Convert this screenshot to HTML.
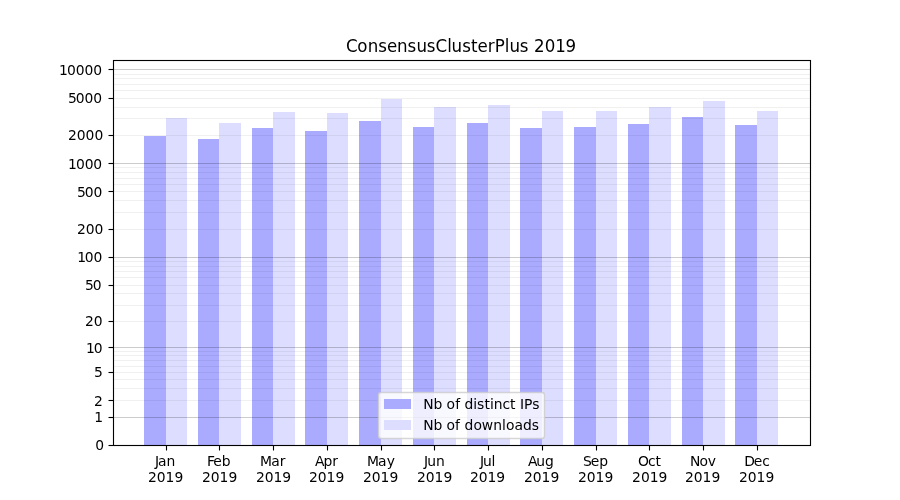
<!DOCTYPE html>
<html lang="en"><head><meta charset="utf-8"><title>ConsensusClusterPlus 2019</title>
<style>html,body{margin:0;padding:0;background:#fff;overflow:hidden}svg{display:block}text{font-family:'DejaVu Sans','Liberation Sans',sans-serif;fill:#000}.t10{font-size:13.8889px}.t12{font-size:16.6667px}</style></head><body>
<svg width="900" height="500" viewBox="0 0 900 500">
<rect x="0" y="0" width="900" height="500" fill="#ffffff"/>
<g shape-rendering="crispEdges">
<rect x="144" y="136" width="22" height="309" fill="#aaaaff"/>
<rect x="166" y="118" width="21" height="327" fill="#ddddff"/>
<rect x="198" y="139" width="21" height="306" fill="#aaaaff"/>
<rect x="219" y="123" width="22" height="322" fill="#ddddff"/>
<rect x="252" y="128" width="21" height="317" fill="#aaaaff"/>
<rect x="273" y="112" width="22" height="333" fill="#ddddff"/>
<rect x="305" y="131" width="22" height="314" fill="#aaaaff"/>
<rect x="327" y="113" width="21" height="332" fill="#ddddff"/>
<rect x="359" y="121" width="22" height="324" fill="#aaaaff"/>
<rect x="381" y="99" width="21" height="346" fill="#ddddff"/>
<rect x="413" y="127" width="21" height="318" fill="#aaaaff"/>
<rect x="434" y="107" width="22" height="338" fill="#ddddff"/>
<rect x="467" y="123" width="21" height="322" fill="#aaaaff"/>
<rect x="488" y="105" width="22" height="340" fill="#ddddff"/>
<rect x="520" y="128" width="22" height="317" fill="#aaaaff"/>
<rect x="542" y="111" width="21" height="334" fill="#ddddff"/>
<rect x="574" y="127" width="22" height="318" fill="#aaaaff"/>
<rect x="596" y="111" width="21" height="334" fill="#ddddff"/>
<rect x="628" y="124" width="21" height="321" fill="#aaaaff"/>
<rect x="649" y="107" width="22" height="338" fill="#ddddff"/>
<rect x="682" y="117" width="21" height="328" fill="#aaaaff"/>
<rect x="703" y="101" width="22" height="344" fill="#ddddff"/>
<rect x="735" y="125" width="22" height="320" fill="#aaaaff"/>
<rect x="757" y="111" width="21" height="334" fill="#ddddff"/>
<rect x="113" y="417" width="698" height="1" fill="#000" fill-opacity="0.2"/>
<rect x="113" y="400" width="698" height="1" fill="#000" fill-opacity="0.06"/>
<rect x="113" y="388" width="698" height="1" fill="#000" fill-opacity="0.06"/>
<rect x="113" y="379" width="698" height="1" fill="#000" fill-opacity="0.06"/>
<rect x="113" y="372" width="698" height="1" fill="#000" fill-opacity="0.06"/>
<rect x="113" y="366" width="698" height="1" fill="#000" fill-opacity="0.06"/>
<rect x="113" y="360" width="698" height="1" fill="#000" fill-opacity="0.06"/>
<rect x="113" y="355" width="698" height="1" fill="#000" fill-opacity="0.06"/>
<rect x="113" y="351" width="698" height="1" fill="#000" fill-opacity="0.06"/>
<rect x="113" y="347" width="698" height="1" fill="#000" fill-opacity="0.2"/>
<rect x="113" y="321" width="698" height="1" fill="#000" fill-opacity="0.06"/>
<rect x="113" y="305" width="698" height="1" fill="#000" fill-opacity="0.06"/>
<rect x="113" y="293" width="698" height="1" fill="#000" fill-opacity="0.06"/>
<rect x="113" y="285" width="698" height="1" fill="#000" fill-opacity="0.06"/>
<rect x="113" y="277" width="698" height="1" fill="#000" fill-opacity="0.06"/>
<rect x="113" y="271" width="698" height="1" fill="#000" fill-opacity="0.06"/>
<rect x="113" y="266" width="698" height="1" fill="#000" fill-opacity="0.06"/>
<rect x="113" y="261" width="698" height="1" fill="#000" fill-opacity="0.06"/>
<rect x="113" y="257" width="698" height="1" fill="#000" fill-opacity="0.2"/>
<rect x="113" y="229" width="698" height="1" fill="#000" fill-opacity="0.06"/>
<rect x="113" y="212" width="698" height="1" fill="#000" fill-opacity="0.06"/>
<rect x="113" y="200" width="698" height="1" fill="#000" fill-opacity="0.06"/>
<rect x="113" y="191" width="698" height="1" fill="#000" fill-opacity="0.06"/>
<rect x="113" y="184" width="698" height="1" fill="#000" fill-opacity="0.06"/>
<rect x="113" y="178" width="698" height="1" fill="#000" fill-opacity="0.06"/>
<rect x="113" y="172" width="698" height="1" fill="#000" fill-opacity="0.06"/>
<rect x="113" y="167" width="698" height="1" fill="#000" fill-opacity="0.06"/>
<rect x="113" y="163" width="698" height="1" fill="#000" fill-opacity="0.2"/>
<rect x="113" y="135" width="698" height="1" fill="#000" fill-opacity="0.06"/>
<rect x="113" y="118" width="698" height="1" fill="#000" fill-opacity="0.06"/>
<rect x="113" y="107" width="698" height="1" fill="#000" fill-opacity="0.06"/>
<rect x="113" y="98" width="698" height="1" fill="#000" fill-opacity="0.06"/>
<rect x="113" y="90" width="698" height="1" fill="#000" fill-opacity="0.06"/>
<rect x="113" y="84" width="698" height="1" fill="#000" fill-opacity="0.06"/>
<rect x="113" y="78" width="698" height="1" fill="#000" fill-opacity="0.06"/>
<rect x="113" y="74" width="698" height="1" fill="#000" fill-opacity="0.06"/>
<rect x="113" y="69" width="698" height="1" fill="#000" fill-opacity="0.2"/>
</g>
<g stroke="#000" stroke-width="1.1111" fill="none">
<path d="M113.5 60.5H810.5V445.5H113.5Z" stroke-linejoin="miter"/>
<path d="M108.5 445.5H113.5"/>
<path d="M108.5 417.5H113.5"/>
<path d="M108.5 400.5H113.5"/>
<path d="M108.5 372.5H113.5"/>
<path d="M108.5 347.5H113.5"/>
<path d="M108.5 321.5H113.5"/>
<path d="M108.5 285.5H113.5"/>
<path d="M108.5 257.5H113.5"/>
<path d="M108.5 229.5H113.5"/>
<path d="M108.5 191.5H113.5"/>
<path d="M108.5 163.5H113.5"/>
<path d="M108.5 135.5H113.5"/>
<path d="M108.5 98.5H113.5"/>
<path d="M108.5 69.5H113.5"/>
<path d="M166.5 445.5V450.5"/>
<path d="M219.5 445.5V450.5"/>
<path d="M273.5 445.5V450.5"/>
<path d="M327.5 445.5V450.5"/>
<path d="M381.5 445.5V450.5"/>
<path d="M434.5 445.5V450.5"/>
<path d="M488.5 445.5V450.5"/>
<path d="M542.5 445.5V450.5"/>
<path d="M596.5 445.5V450.5"/>
<path d="M649.5 445.5V450.5"/>
<path d="M703.5 445.5V450.5"/>
<path d="M757.5 445.5V450.5"/>
</g>
<g shape-rendering="crispEdges" fill="#000" fill-opacity="0.055"><rect x="113" y="59" width="698" height="1"/><rect x="113" y="61" width="698" height="1"/><rect x="113" y="444" width="698" height="1"/><rect x="113" y="446" width="698" height="1"/></g>
<text class="t10" x="155.10 157.89 166.54" y="466">Jan</text>
<text class="t10" x="147.93 156.85 165.58 174.42" y="482">2019</text>
<text class="t10" x="207.05 213.35 221.71" y="466">Feb</text>
<text class="t10" x="201.91 210.83 219.56 228.41" y="482">2019</text>
<text class="t10" x="260.01 271.13 279.68" y="466">Mar</text>
<text class="t10" x="255.97 264.77 273.52 282.37" y="482">2019</text>
<text class="t10" x="315.06 323.56 332.25" y="466">Apr</text>
<text class="t10" x="308.98 317.78 326.53 335.38" y="482">2019</text>
<text class="t10" x="367.00 378.02 386.77" y="466">May</text>
<text class="t10" x="362.97 371.77 380.52 389.38" y="482">2019</text>
<text class="t10" x="424.01 427.21 435.94" y="466">Jun</text>
<text class="t10" x="416.94 425.86 434.59 443.43" y="482">2019</text>
<text class="t10" x="480.09 482.91 491.59" y="466">Jul</text>
<text class="t10" x="469.96 478.76 487.51 496.37" y="482">2019</text>
<text class="t10" x="527.99 536.25 545.11" y="466">Aug</text>
<text class="t10" x="523.96 532.87 541.62 550.47" y="482">2019</text>
<text class="t10" x="582.98 590.82 599.13" y="466">Sep</text>
<text class="t10" x="577.96 586.87 595.62 604.46" y="482">2019</text>
<text class="t10" x="638.03 647.94 655.58" y="466">Oct</text>
<text class="t10" x="631.97 640.89 649.64 658.49" y="482">2019</text>
<text class="t10" x="690.07 699.39 707.83" y="466">Nov</text>
<text class="t10" x="684.92 693.84 702.57 711.42" y="482">2019</text>
<text class="t10" x="744.17 753.85 762.24" y="466">Dec</text>
<text class="t10" x="738.93 747.85 756.58 765.42" y="482">2019</text>
<text class="t10" x="95.13" y="450">0</text>
<text class="t10" x="94.14" y="422">1</text>
<text class="t10" x="93.97" y="406">2</text>
<text class="t10" x="93.99" y="377">5</text>
<text class="t10" x="86.03 93.83" y="353">10</text>
<text class="t10" x="84.89 93.72" y="326">20</text>
<text class="t10" x="84.90 92.71" y="290">50</text>
<text class="t10" x="77.13 84.84 93.38" y="262">100</text>
<text class="t10" x="77.01 85.84 94.58" y="234">200</text>
<text class="t10" x="76.89 84.78 93.48" y="197">500</text>
<text class="t10" x="68.03 75.90 84.70 93.30" y="169">1000</text>
<text class="t10" x="67.94 76.72 85.49 94.40" y="140">2000</text>
<text class="t10" x="68.00 75.72 84.52 93.26" y="103">5000</text>
<text class="t10" x="59.08 66.89 75.69 84.44 93.27" y="75">10000</text>
<text class="t12" transform="translate(0,52) scale(1,1.08)" x="345.96 357.37 367.72 378.24 386.93 396.93 407.62 416.48 426.76 435.43 447.24 451.63 462.24 471.07 477.54 487.86 494.76 504.74 509.61 519.79 528.65 533.96 544.74 555.16 565.62" y="0">ConsensusClusterPlus 2019</text>
<path d="M381.278 438.5 H541.722 Q544.5 438.5 544.5 435.722 V395.278 Q544.5 392.5 541.722 392.5 H381.278 Q378.5 392.5 378.5 395.278 V435.722 Q378.5 438.5 381.278 438.5 Z" fill="#ffffff" stroke="#cccccc" stroke-width="1.3889" fill-opacity="0.8" stroke-opacity="0.8"/>
<rect x="384" y="399" width="27" height="10" fill="#aaaaff" shape-rendering="crispEdges"/>
<rect x="384" y="420" width="27" height="10" fill="#ddddff" shape-rendering="crispEdges"/>
<text class="t10" x="423.35 433.47 442.28 446.45 455.23 460.16 464.58 473.36 477.11 484.40 490.05 493.86 502.39 510.11 515.66 519.94 524.01 532.20" y="409">Nb of distinct IPs</text>
<text class="t10" x="423.22 433.46 442.26 446.43 455.08 460.14 464.62 473.43 481.73 493.29 501.95 505.89 514.45 523.09 531.78" y="430">Nb of downloads</text>
</svg></body></html>
